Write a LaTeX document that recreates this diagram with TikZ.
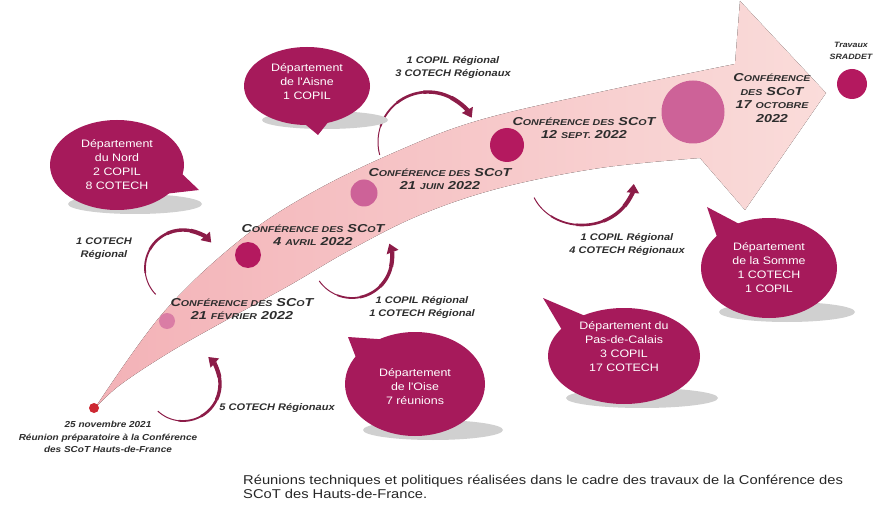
\documentclass[tikz,border=0pt]{standalone}
\usepackage{fontspec}
\setmainfont{Liberation Sans}
\newfontfamily\wfont[FakeStretch=1.15]{Liberation Sans}
\newfontfamily\cfont[FakeStretch=1.25]{Liberation Sans}
\usetikzlibrary{arrows.meta}
\definecolor{bub}{RGB}{166,26,91}
\definecolor{arr}{RGB}{140,28,72}
\definecolor{lbl}{RGB}{45,45,45}
\definecolor{bandA}{RGB}{243,178,183}
\definecolor{bandB}{RGB}{250,220,218}
\definecolor{shad}{RGB}{208,208,208}
\definecolor{dotred}{RGB}{205,40,50}
\definecolor{dotlight}{RGB}{218,125,165}
\definecolor{dotdark}{RGB}{180,25,95}
\definecolor{dotmid}{RGB}{205,98,152}
\newcommand\Sm[1]{{\fontsize{8.5}{13}\selectfont #1}}
\tikzset{
  conf/.style={font=\cfont\bfseries\itshape\fontsize{11.5}{13.5}\selectfont, text=lbl, align=center, inner sep=0pt},
  lab/.style={font=\wfont\bfseries\itshape\fontsize{9.6}{13}\selectfont, text=lbl, align=center, inner sep=0pt},
  btxt/.style={font=\wfont\fontsize{10.8}{14}\selectfont, text=white, align=center, inner sep=0pt},
  arrw/.style={draw=arr, line width=4.2pt, -{Triangle[width=12pt,length=9pt]}},
  dot/.style={circle, inner sep=0pt, draw=none},
  bubble/.style={fill=bub},
  shadow/.style={fill=shad}
}
% tapered curved arrow: cx, cy, x radius, y radius, start angle, end angle
\newcommand\taperarc[6]{%
  \foreach \i/\w in {0/1.0,1/1.8,2/2.6,3/3.4} {%
    \pgfmathsetmacro\sa{#5+(#6-#5)*\i/5}%
    \pgfmathsetmacro\ea{#5+(#6-#5)*(\i+1.04)/5}%
    \draw[draw=arr, line width=\w pt] (#1,#2) ++(\sa:#3 and #4) arc[start angle=\sa, end angle=\ea, x radius=#3, y radius=#4];
  }%
  \pgfmathsetmacro\sa{#5+(#6-#5)*4/5}%
  \draw[arrw] (#1,#2) ++(\sa:#3 and #4) arc[start angle=\sa, end angle=#6, x radius=#3, y radius=#4];
}
\begin{document}
\begin{tikzpicture}[x=1pt,y=-1pt]
\useasboundingbox (0,0) rectangle (879,508);
% big curved arrow
\fill[left color=bandA, right color=bandB] (95,408) -- plot[smooth, tension=0.6] coordinates {(95,408) (163,313) (240,240) (313,192) (400,150) (480,120) (600,92) (735,64)} -- (740,1) -- (826,93) -- (745,210) -- (700,158) -- plot[smooth, tension=0.6] coordinates {(700,158) (600,168) (500,188) (420,215) (350,250) (290,285) (230,318) (170,352) (120,385) (95,408)} -- cycle;
% conference dots
\node[dot, fill=dotred, minimum size=10pt] (d0) at (94,408) {};
\node[dot, fill=dotlight, minimum size=16pt] (d1) at (167,321) {};
\node[dot, fill=dotdark, minimum size=26pt] (d2) at (248,255) {};
\node[dot, fill=dotmid, minimum size=27pt] (d3) at (364,193) {};
\node[dot, fill=dotdark, minimum size=34pt] (d4) at (507,145) {};
\node[dot, fill=dotmid, minimum size=63pt] (d5) at (693,112) {};
\node[dot, fill=dotdark, minimum size=30pt] (d6) at (852,84) {};
% curved arrows
\taperarc{183}{268}{38}{38}{136}{318}
\taperarc{183}{384}{37}{37}{133}{-47}
\taperarc{352}{258}{40}{40}{145}{-21}
\taperarc{428}{142}{50}{50}{165}{331}
\taperarc{582}{180}{52}{45}{157}{5}
% bubbles: shadows
\fill[shadow] (135,204) ellipse[x radius=67, y radius=10];
\fill[shadow] (325,120) ellipse[x radius=63, y radius=9];
\fill[shadow] (433,430) ellipse[x radius=70, y radius=10];
\fill[shadow] (642,398) ellipse[x radius=76, y radius=10];
\fill[shadow] (787,312) ellipse[x radius=68, y radius=10];
% bubbles
\fill[bubble] (117,165) ellipse[x radius=67, y radius=45];
\fill[bubble] (178,170) -- (199,190) -- (155,195) -- cycle;
\fill[bubble] (307,86) ellipse[x radius=63, y radius=39];
\fill[bubble] (300,120) -- (318,135) -- (333,116) -- cycle;
\fill[bubble] (415,384) ellipse[x radius=70, y radius=52];
\fill[bubble] (360,368) -- (348,337) -- (392,340) -- cycle;
\fill[bubble] (624,356) ellipse[x radius=76, y radius=48];
\fill[bubble] (565,335) -- (543,298) -- (590,318) -- cycle;
\fill[bubble] (769,268) ellipse[x radius=68, y radius=50];
\fill[bubble] (718,240) -- (707,207) -- (745,227) -- cycle;
% bubble texts
\node[btxt] (bnord) at (117,165) {Département\\du Nord\\2 COPIL\\8 COTECH};
\node[btxt] (baisne) at (307,82) {Département\\de l'Aisne\\1 COPIL};
\node[btxt] (boise) at (415,387) {Département\\de l'Oise\\7 réunions};
\node[btxt] (bpdc) at (624,347) {Département du\\Pas-de-Calais\\3 COPIL\\17 COTECH};
\node[btxt] (bsomme) at (769,268) {Département\\de la Somme\\1 COTECH\\1 COPIL};
% conference labels
\node[conf] (lfev) at (242,309) {C\Sm{ONFÉRENCE DES} SC\Sm{O}T\\21 \Sm{FÉVRIER} 2022};
\node[conf] (lavr) at (313,235) {C\Sm{ONFÉRENCE DES} SC\Sm{O}T\\4 \Sm{AVRIL} 2022};
\node[conf] (ljuin) at (440,179) {C\Sm{ONFÉRENCE DES} SC\Sm{O}T\\21 \Sm{JUIN} 2022};
\node[conf] (lsept) at (584,128) {C\Sm{ONFÉRENCE DES} SC\Sm{O}T\\12 \Sm{SEPT.} 2022};
\node[conf] (loct) at (772,98) {C\Sm{ONFÉRENCE}\\\Sm{DES} SC\Sm{O}T\\17 \Sm{OCTOBRE}\\2022};
\node[lab, font=\wfont\bfseries\itshape\fontsize{7.7}{12}\selectfont] (lsrad) at (851,51) {Travaux\\SRADDET};
% meeting labels
\node[lab] (m1) at (104,249) {1 COTECH\\Régional};
\node[lab] (m2) at (453,67) {1 COPIL Régional\\3 COTECH Régionaux};
\node[lab] (m3) at (422,307) {1 COPIL Régional\\1 COTECH Régional};
\node[lab] (m4) at (627,244) {1 COPIL Régional\\4 COTECH Régionaux};
\node[lab] (m5) at (277,408) {5 COTECH Régionaux};
\node[lab, font=\wfont\bfseries\itshape\fontsize{8.7}{12.5}\selectfont] (lnov) at (108,437) {25 novembre 2021\\Réunion préparatoire à la Conférence\\des SCoT Hauts-de-France};
% caption
\node[anchor=north west, inner sep=0pt, align=left, text=black!85, font=\wfont\fontsize{12.8}{14}\selectfont] (cap) at (243,475) {Réunions techniques et politiques réalisées dans le cadre des travaux de la Conférence des\\SCoT des Hauts-de-France.};
\end{tikzpicture}
\end{document}
